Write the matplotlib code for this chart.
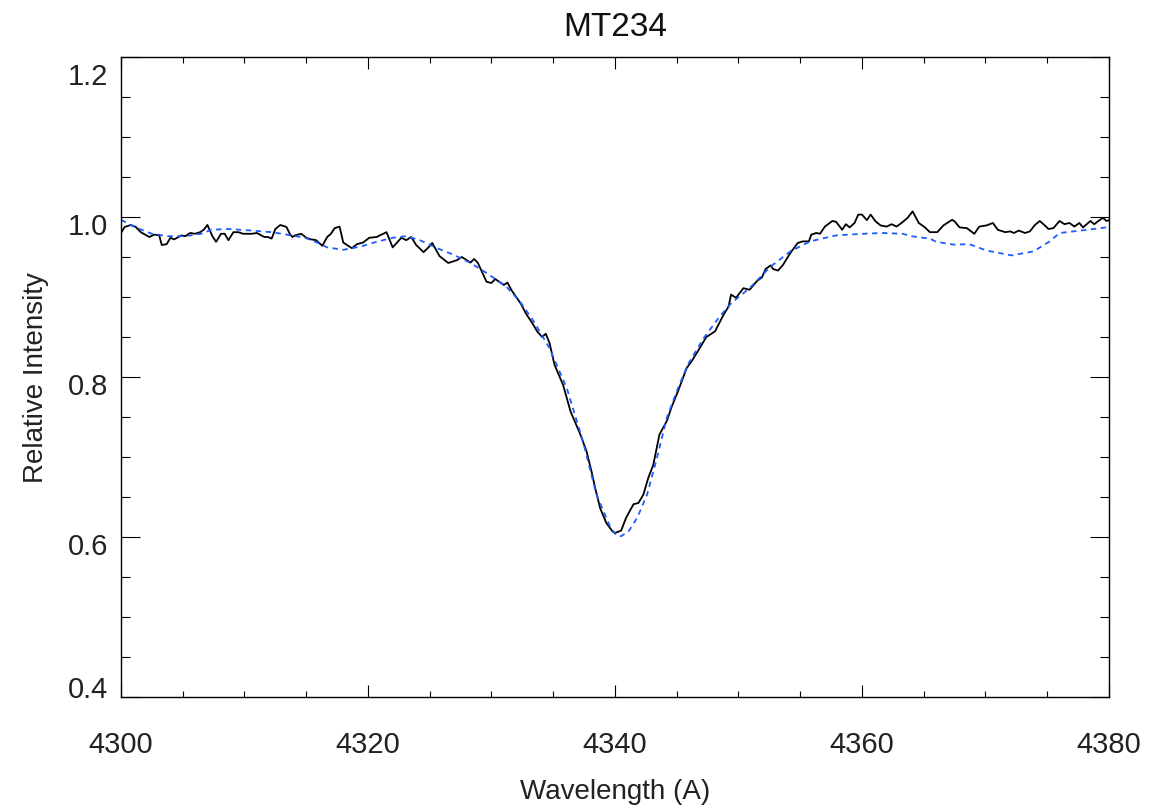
import matplotlib.pyplot as plt
from matplotlib.ticker import MultipleLocator
import matplotlib.transforms as mtransforms

plt.rcParams['font.family'] = ['Liberation Sans', 'DejaVu Sans']

# observed spectrum (black)
obs_wave = [4300.0, 4300.3, 4300.8, 4301.2, 4301.6, 4302.3, 4302.7, 4303.1, 4303.3, 4303.7,
            4304.0, 4304.3, 4304.9, 4305.2, 4305.6, 4306.0, 4306.4, 4306.7, 4307.0, 4307.4,
            4307.7, 4308.1, 4308.4, 4308.7, 4309.1, 4309.5, 4309.9, 4310.6, 4311.0, 4311.6,
            4311.9, 4312.2, 4312.5, 4312.9, 4313.4, 4313.7, 4313.9, 4314.1, 4314.6, 4315.0,
            4315.4, 4315.8, 4316.3, 4316.7, 4317.0, 4317.3, 4317.7, 4318.0, 4318.3, 4318.7,
            4319.1, 4319.6, 4320.1, 4320.7, 4321.5, 4322.0, 4322.7, 4323.1, 4323.5, 4323.9,
            4324.5, 4324.9, 4325.2, 4325.8, 4326.5, 4327.2, 4327.6, 4328.0, 4328.3, 4328.6,
            4328.9, 4329.6, 4330.0, 4330.3, 4331.0, 4331.3, 4331.6, 4332.0, 4332.4, 4332.8,
            4333.3, 4333.7, 4334.1, 4334.4, 4334.7, 4335.1, 4335.8, 4336.4, 4337.2, 4337.7,
            4338.1, 4338.4, 4338.8, 4339.3, 4339.8, 4340.0, 4340.5, 4340.9, 4341.5, 4341.9,
            4342.3, 4342.7, 4343.1, 4343.6, 4344.2, 4344.6, 4345.1, 4345.8, 4346.2, 4346.7,
            4347.4, 4348.1, 4348.8, 4349.2, 4349.4, 4349.8, 4350.4, 4350.9, 4351.5, 4351.9,
            4352.2, 4352.6, 4352.8, 4353.2, 4353.6, 4354.2, 4354.8, 4355.2, 4355.7, 4355.9,
            4356.3, 4356.6, 4357.0, 4357.6, 4357.9, 4358.4, 4358.7, 4359.0, 4359.4, 4359.7,
            4360.0, 4360.4, 4360.7, 4361.1, 4361.5, 4362.0, 4362.4, 4362.8, 4363.2, 4363.7,
            4364.1, 4364.6, 4365.1, 4365.5, 4366.1, 4366.6, 4367.3, 4367.5, 4367.9, 4368.5,
            4369.1, 4369.5, 4370.1, 4370.6, 4371.0, 4371.6, 4372.0, 4372.3, 4372.7, 4373.2,
            4373.6, 4374.0, 4374.4, 4374.8, 4375.1, 4375.5, 4376.0, 4376.4, 4376.8, 4377.2,
            4377.6, 4377.9, 4378.5, 4378.8, 4379.5, 4379.8, 4380.0]
obs_flux = [0.980, 0.9875, 0.990, 0.9875, 0.981, 0.975, 0.978, 0.977, 0.965, 0.966,
            0.974, 0.972, 0.977, 0.976, 0.980, 0.979, 0.981, 0.984, 0.990, 0.976,
            0.969, 0.979, 0.979, 0.971, 0.981, 0.981, 0.979, 0.979, 0.980, 0.975,
            0.975, 0.973, 0.985, 0.990, 0.9875, 0.978, 0.975, 0.977, 0.979, 0.974,
            0.972, 0.971, 0.964, 0.975, 0.979, 0.986, 0.988, 0.968, 0.965, 0.961,
            0.966, 0.968, 0.974, 0.975, 0.981, 0.962, 0.974, 0.971, 0.975, 0.965,
            0.956, 0.962, 0.9675, 0.951, 0.9425, 0.946, 0.950, 0.946, 0.943, 0.9475,
            0.9425, 0.919, 0.9175, 0.9225, 0.915, 0.918, 0.909, 0.900, 0.891, 0.879,
            0.8675, 0.857, 0.850, 0.854, 0.8425, 0.8155, 0.790, 0.757, 0.728, 0.707,
            0.682, 0.661, 0.636, 0.6175, 0.607, 0.605, 0.608, 0.624, 0.641, 0.6425,
            0.653, 0.674, 0.690, 0.728, 0.745, 0.763, 0.782, 0.811, 0.8195, 0.832,
            0.850, 0.857, 0.878, 0.888, 0.903, 0.899, 0.911, 0.909, 0.920, 0.9245,
            0.935, 0.9395, 0.935, 0.933, 0.940, 0.955, 0.9675, 0.9695, 0.9695, 0.978,
            0.980, 0.979, 0.988, 0.995, 0.994, 0.984, 0.991, 0.987, 0.9925, 1.003,
            1.003, 0.996, 1.003, 0.9945, 0.9895, 0.988, 0.991, 0.988, 0.9925, 0.999,
            1.007, 0.9925, 0.987, 0.981, 0.981, 0.9895, 0.9965, 0.9945, 0.987, 0.986,
            0.979, 0.988, 0.9895, 0.9925, 0.984, 0.981, 0.982, 0.980, 0.983, 0.980,
            0.982, 0.990, 0.995, 0.9895, 0.985, 0.986, 0.995, 0.991, 0.9925, 0.988,
            0.9925, 0.987, 0.995, 0.991, 0.999, 0.995, 0.996]

# model spectrum (blue dashed)
mod_wave = [4300.0, 4301.1, 4302.5, 4303.8, 4305.2, 4306.5, 4307.3, 4308.7, 4310.6, 4312.2,
            4313.8, 4314.9, 4315.9, 4316.7, 4318.0, 4319.4, 4320.7, 4322.0, 4323.1, 4324.2,
            4325.6, 4326.9, 4328.3, 4329.6, 4331.2, 4332.3, 4333.4, 4334.7, 4336.1, 4337.4,
            4338.5, 4339.6, 4340.1, 4340.5, 4341.1, 4341.8, 4342.6, 4343.4, 4344.2, 4345.0,
            4345.9, 4347.2, 4348.5, 4349.4, 4350.1, 4350.9, 4352.6, 4354.2, 4355.8, 4357.9,
            4360.1, 4361.7, 4363.3, 4364.0, 4364.7, 4365.5, 4366.0, 4367.4, 4368.7, 4370.1,
            4372.1, 4373.9, 4375.2, 4376.0, 4377.7, 4379.3, 4380.0]
mod_flux = [0.9965, 0.9875, 0.979, 0.976, 0.976, 0.979, 0.984, 0.985, 0.983, 0.981,
            0.977, 0.974, 0.968, 0.962, 0.959, 0.963, 0.969, 0.974, 0.976, 0.971,
            0.961, 0.953, 0.9425, 0.930, 0.913, 0.8945, 0.870, 0.836, 0.786, 0.720,
            0.653, 0.613, 0.602, 0.601, 0.607, 0.624, 0.653, 0.699, 0.749, 0.782,
            0.8155, 0.849, 0.876, 0.892, 0.901, 0.911, 0.938, 0.957, 0.9695, 0.977,
            0.979, 0.980, 0.979, 0.976, 0.9745, 0.973, 0.969, 0.9655, 0.966, 0.958,
            0.952, 0.957, 0.9695, 0.980, 0.983, 0.986, 0.9875]

fig = plt.figure(figsize=(11.6, 8.12), dpi=100)
ax = fig.add_axes([0.1043, 0.1404, 0.8517, 0.7882])

ax.plot(obs_wave, obs_flux, color='black', lw=1.3)
ax.plot(mod_wave, mod_flux, color='#1f5cff', lw=1.3, ls=(0, (3, 2.5)))

ax.set_xlim(4300, 4380)
ax.set_ylim(0.4, 1.2)
ax.xaxis.set_major_locator(MultipleLocator(20))
ax.xaxis.set_minor_locator(MultipleLocator(5))
ax.yaxis.set_major_locator(MultipleLocator(0.2))
ax.yaxis.set_minor_locator(MultipleLocator(0.05))
ax.yaxis.set_major_formatter(lambda v, p: f'{v:.1f}')

ax.tick_params(which='both', direction='in', top=True, right=True, width=0.8, colors='black')
ax.tick_params(axis='x', which='major', length=8.6, pad=24, labelsize=21, labelcolor='#222222')
ax.tick_params(axis='x', which='minor', length=4.3)
ax.tick_params(axis='y', which='major', length=13.7, pad=9, labelsize=21, labelcolor='#222222')
ax.tick_params(axis='y', which='minor', length=6.5)
for sp in ax.spines.values():
    sp.set_linewidth(1.0)

fig.canvas.draw()
# IDL-like labels: end labels pulled inside, the rest a bit below the tick
for lbl in ax.get_yticklabels():
    t = lbl.get_text()
    dy = -6
    if t == '1.2':
        dy = -16
    elif t == '0.4':
        dy = 11
    shift = mtransforms.ScaledTranslation(0, dy / 100, fig.dpi_scale_trans)
    lbl.set_transform(lbl.get_transform() + shift)

ax.set_title('MT234', fontsize=24, pad=16, color='#111111')
ax.set_xlabel('Wavelength (A)', fontsize=20, labelpad=14, color='#222222')
ax.set_ylabel('Relative Intensity', fontsize=20, labelpad=14, color='#222222')

plt.savefig('out.png', dpi=100)
